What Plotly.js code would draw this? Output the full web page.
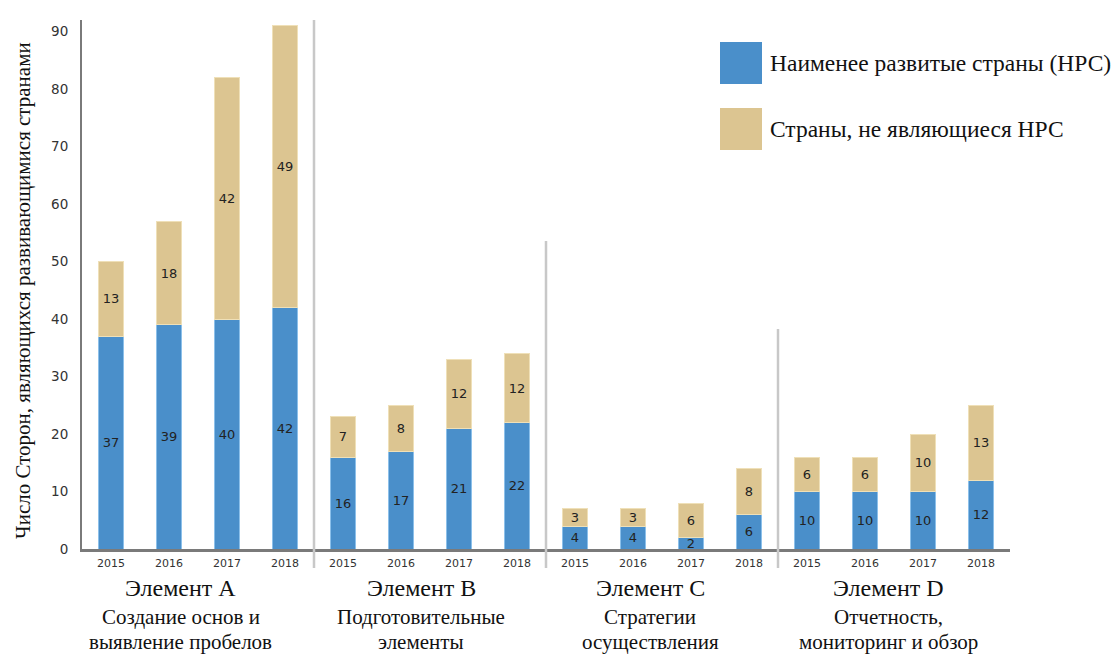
<!DOCTYPE html>
<html>
<head>
<meta charset="utf-8">
<script src="https://cdn.plot.ly/plotly-3.0.1.min.js"></script>
<style>html,body{margin:0;padding:0;background:#fff;}#chart{width:1118px;height:657px;}</style>
</head>
<body>
<div id="chart"></div>
<script>
// ---- data ----
const years = ['2015','2016','2017','2018'];
const groupNames = ['Элемент A','Элемент B','Элемент C','Элемент D'];
const groupDescs = [['Создание основ и','выявление пробелов'],['Подготовительные','элементы'],['Стратегии','осуществления'],['Отчетность,','мониторинг и обзор']];
const ldcValues    = [37,39,40,42, 16,17,21,22, 4,4,2,6, 10,10,10,12];
const nonLdcValues = [13,18,42,49, 7,8,12,12, 3,3,6,8, 6,6,10,13];
const seriesNames = ['Наименее развитые страны (НРС)','Страны, не являющиеся НРС'];
const yTitle = 'Число Сторон, являющихся развивающимися странами';

// ---- layout helpers ----
const W = 1118, H = 657, L = 82, R = 108, T = 20, B = 108;
const PW = W - L - R, PH = H - T - B;
const px = x => (x - L) / PW;
const py = y => (H - B - y) / PH;

const n = ldcValues.length;
const xs = ldcValues.map((_, i) => i);
const tickText = xs.map(i => years[i % years.length]);
const colors = ['#4a8fca', '#dcc591'];
const edges = ['#8cc0ea', '#efe0b8'];

const traces = [ldcValues, nonLdcValues].map((vals, k) => ({
  type: 'bar',
  x: xs,
  y: vals,
  name: seriesNames[k],
  width: 0.43,
  marker: {color: colors[k], line: {color: edges[k], width: 1}},
  text: vals.map(String),
  textposition: 'inside',
  insidetextanchor: 'middle',
  constraintext: 'none',
  textangle: 0,
  textfont: {family: 'DejaVu Sans', size: 13, color: '#222'},
  hoverinfo: 'y+name',
  showlegend: false
}));

const shapes = [];
const annotations = [];
// group separators
const sepX = [3.5, 7.5, 11.5];
const sepTop = [20, 241, 329];
sepX.forEach((x, k) => shapes.push({
  type: 'line', xref: 'x', yref: 'paper', x0: x, x1: x,
  y0: py(568), y1: py(sepTop[k]),
  line: {color: '#c8c8c8', width: 2.5}, layer: 'above'
}));
// group labels
const groupX = [1.2, 5.35, 9.3, 13.4];
groupNames.forEach((g, k) => {
  annotations.push({xref: 'x', yref: 'paper', x: groupX[k], y: py(588), text: g,
    showarrow: false, xanchor: 'center', yanchor: 'middle',
    font: {family: 'Liberation Serif', size: 24, color: '#111'}});
  groupDescs[k].forEach((line, j) => annotations.push({xref: 'x', yref: 'paper', x: groupX[k], y: py(617 + 25 * j), text: line,
    showarrow: false, xanchor: 'center', yanchor: 'middle',
    font: {family: 'Liberation Serif', size: 21, color: '#111'}}));
});
// y title
annotations.push({xref: 'paper', yref: 'paper', x: px(23), y: py(291), text: yTitle,
  textangle: -90, showarrow: false, xanchor: 'center', yanchor: 'middle',
  font: {family: 'Liberation Serif', size: 21, color: '#111'}});
// custom legend
const legTop = [42, 108];
seriesNames.forEach((s, k) => {
  shapes.push({type: 'rect', xref: 'paper', yref: 'paper',
    x0: px(720), x1: px(762), y0: py(legTop[k]), y1: py(legTop[k] + 42),
    fillcolor: colors[k], line: {width: 0}});
  annotations.push({xref: 'paper', yref: 'paper', x: px(768), y: py(legTop[k] + 21), text: s,
    showarrow: false, xanchor: 'left', yanchor: 'middle',
    font: {family: 'Liberation Serif', size: 23.5, color: '#111'}});
});

const layout = {
  width: W, height: H,
  margin: {l: L, r: R, t: T, b: B},
  barmode: 'stack',
  paper_bgcolor: '#fff', plot_bgcolor: '#fff',
  showlegend: false,
  xaxis: {
    range: [-0.5, n - 0.5], tickvals: xs, ticktext: tickText,
    showgrid: false, zeroline: false, showline: true, linecolor: '#7a7a7a', linewidth: 3,
    ticks: '', ticklabelstandoff: 2, tickfont: {family: 'DejaVu Sans', size: 11, color: '#333'}, fixedrange: true
  },
  yaxis: {
    range: [0, 92], tickvals: [0,10,20,30,40,50,60,70,80,90],
    showgrid: false, zeroline: false, showline: true, linecolor: '#7a7a7a', linewidth: 2,
    ticks: '', ticklabelstandoff: 9,
    tickfont: {family: 'DejaVu Sans', size: 13.5, color: '#333'}, fixedrange: true
  },
  shapes: shapes,
  annotations: annotations
};

Plotly.newPlot('chart', traces, layout, {displayModeBar: false, staticPlot: true});
</script>
</body>
</html>
